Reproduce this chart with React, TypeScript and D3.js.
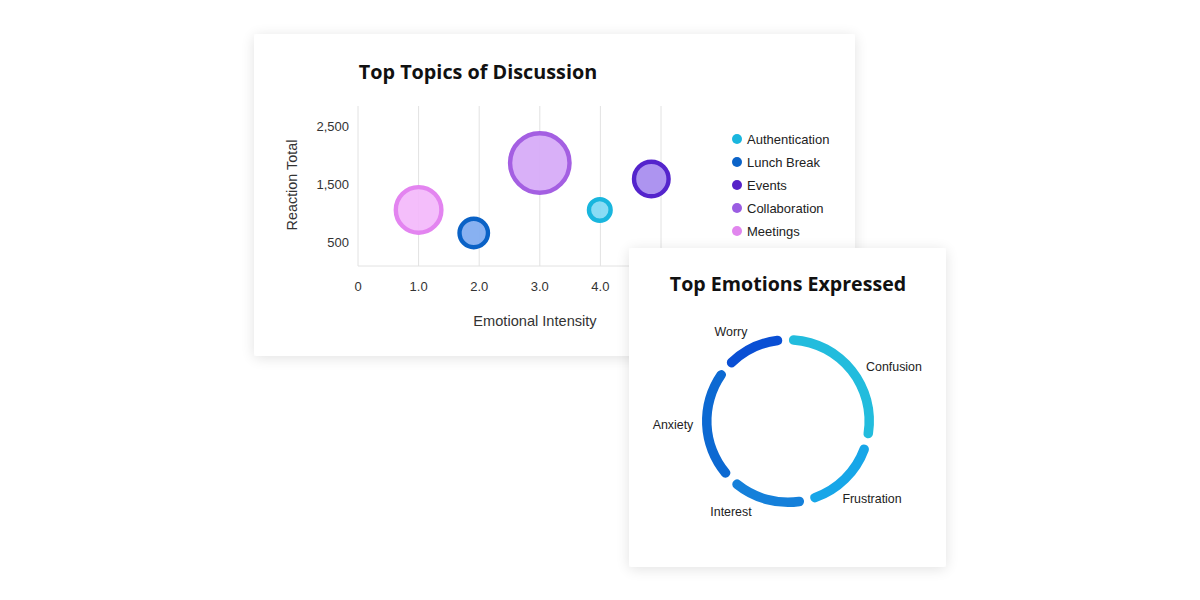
import React from "react";
import * as d3 from "d3";

const topics = ["Meetings", "Lunch Break", "Collaboration", "Authentication", "Events"];
const intensity = [1.0, 1.91, 3.0, 3.99, 4.84];
const reactions = [1070, 672, 1880, 1070, 1603];
const mentions = [625, 270, 1020, 170, 380];
const topicStroke = ["#e384f0", "#0a62c6", "#a45fe2", "#19b6de", "#5424cc"];
const topicFill = ["#f3b8fb", "#7eaaf0", "#d6a9f7", "#7fd9f4", "#a68bef"];

const legendTopics = ["Authentication", "Lunch Break", "Events", "Collaboration", "Meetings"];
const legendColors = ["#1ab6de", "#0b63c8", "#5722c8", "#9b5de2", "#e186ee"];

const xTicks = [0, 1, 2, 3, 4, 5];
const yTicks = [500, 1500, 2500];

const emotions = ["Confusion", "Frustration", "Interest", "Anxiety", "Worry"];
const emotionValues = [30, 17, 16, 24, 13];
const emotionColors = ["#22bcdd", "#17a6e8", "#1580da", "#0c69d2", "#0a4fd4"];

const FONT = "'Liberation Sans', Arial, sans-serif";
const TITLE_FONT = "'Open Sans', 'Noto Sans', sans-serif";

export default function App() {
  const x = d3.scaleLinear().domain([0, 5]).range([358, 661]);
  const y = d3.scaleLinear().domain([103, 2862]).range([266, 106]);
  const r = d3.scaleSqrt().domain([0, 1024]).range([0, 32]);

  const pie = d3
    .pie<number>()
    .sort(null)
    .value((d) => d)
    .startAngle(-0.03)
    .endAngle(2 * Math.PI - 0.03)
    .padAngle(0.058);
  const arcs = pie(emotionValues);
  const arc = d3
    .arc<d3.PieArcDatum<number>>()
    .innerRadius(76.5)
    .outerRadius(86)
    .cornerRadius(4.75);

  const cx = 788;
  const cy = 421;
  const labelPos: [number, number][] = [
    [894, 371],
    [872, 503],
    [731, 516],
    [673, 429],
    [731, 336],
  ];

  const order = [2, 0, 1, 4, 3];

  return (
    <svg
      width={1200}
      height={600}
      style={{ position: "absolute", left: 0, top: 0, background: "#ffffff" }}
    >
      <defs>
        <filter id="sh" x="-10%" y="-10%" width="120%" height="120%">
          <feGaussianBlur in="SourceAlpha" stdDeviation="7" />
          <feComponentTransfer>
            <feFuncA type="linear" slope="0.12" />
          </feComponentTransfer>
          <feOffset dx="0" dy="2" result="s" />
          <feMerge>
            <feMergeNode in="s" />
            <feMergeNode in="SourceGraphic" />
          </feMerge>
        </filter>
      </defs>
      <rect width={1200} height={600} fill="#ffffff" />

      {/* Card 1 */}
      <rect x={254} y={34} width={601} height={322} rx={3} fill="#fff" filter="url(#sh)" />
      <text x={478} y={79} textAnchor="middle" fontFamily={TITLE_FONT} fontWeight={700} fontSize={19.8} fill="#111">
        Top Topics of Discussion
      </text>

      {xTicks.slice(1).map((t) => (
        <line key={"g" + t} x1={x(t)} x2={x(t)} y1={106} y2={266} stroke="#e2e2e2" strokeWidth={1} />
      ))}
      <line x1={358} x2={358} y1={106} y2={266} stroke="#e2e2e2" />
      <line x1={358} x2={x(5)} y1={266} y2={266} stroke="#e2e2e2" />

      {xTicks.map((t) => (
        <text key={"xt" + t} x={x(t)} y={291} textAnchor="middle" fontFamily={FONT} fontSize={13} fill="#333">
          {t === 0 ? "0" : d3.format(".1f")(t)}
        </text>
      ))}
      {yTicks.map((t) => (
        <text key={"yt" + t} x={349} y={y(t) + 4.5} textAnchor="end" fontFamily={FONT} fontSize={13} fill="#333">
          {d3.format(",")(t)}
        </text>
      ))}
      <text x={535} y={326} textAnchor="middle" fontFamily={FONT} fontSize={14.6} fill="#333">
        Emotional Intensity
      </text>
      <text
        transform={`translate(297,185) rotate(-90)`}
        textAnchor="middle"
        fontFamily={FONT}
        fontSize={14.4}
        fill="#333"
      >
        Reaction Total
      </text>

      {order.map((i) => (
        <circle
          key={topics[i]}
          cx={x(intensity[i])}
          cy={y(reactions[i])}
          r={r(mentions[i]) - 2.2}
          fill={topicFill[i]}
          fillOpacity={0.92}
          stroke={topicStroke[i]}
          strokeWidth={4.4}
        />
      ))}

      {legendTopics.map((t, i) => (
        <g key={t} transform={`translate(737,${139 + i * 23})`}>
          <circle r={5} fill={legendColors[i]} />
          <text x={10} y={4.5} fontFamily={FONT} fontSize={13} fill="#222">
            {t}
          </text>
        </g>
      ))}

      {/* Card 2 */}
      <rect x={629} y={248} width={317} height={319} rx={3} fill="#fff" filter="url(#sh)" />
      <text x={788} y={291} textAnchor="middle" fontFamily={TITLE_FONT} fontWeight={700} fontSize={19.6} fill="#111">
        Top Emotions Expressed
      </text>
      <g transform={`translate(${cx},${cy})`}>
        {arcs.map((a, i) => (
          <path key={emotions[i]} d={arc(a) || ""} fill={emotionColors[i]} />
        ))}
      </g>
      {emotions.map((e, i) => (
        <text
          key={"lb" + e}
          x={labelPos[i][0]}
          y={labelPos[i][1]}
          textAnchor="middle"
          fontFamily={FONT}
          fontSize={12.4}
          fill="#222"
        >
          {e}
        </text>
      ))}
    </svg>
  );
}
